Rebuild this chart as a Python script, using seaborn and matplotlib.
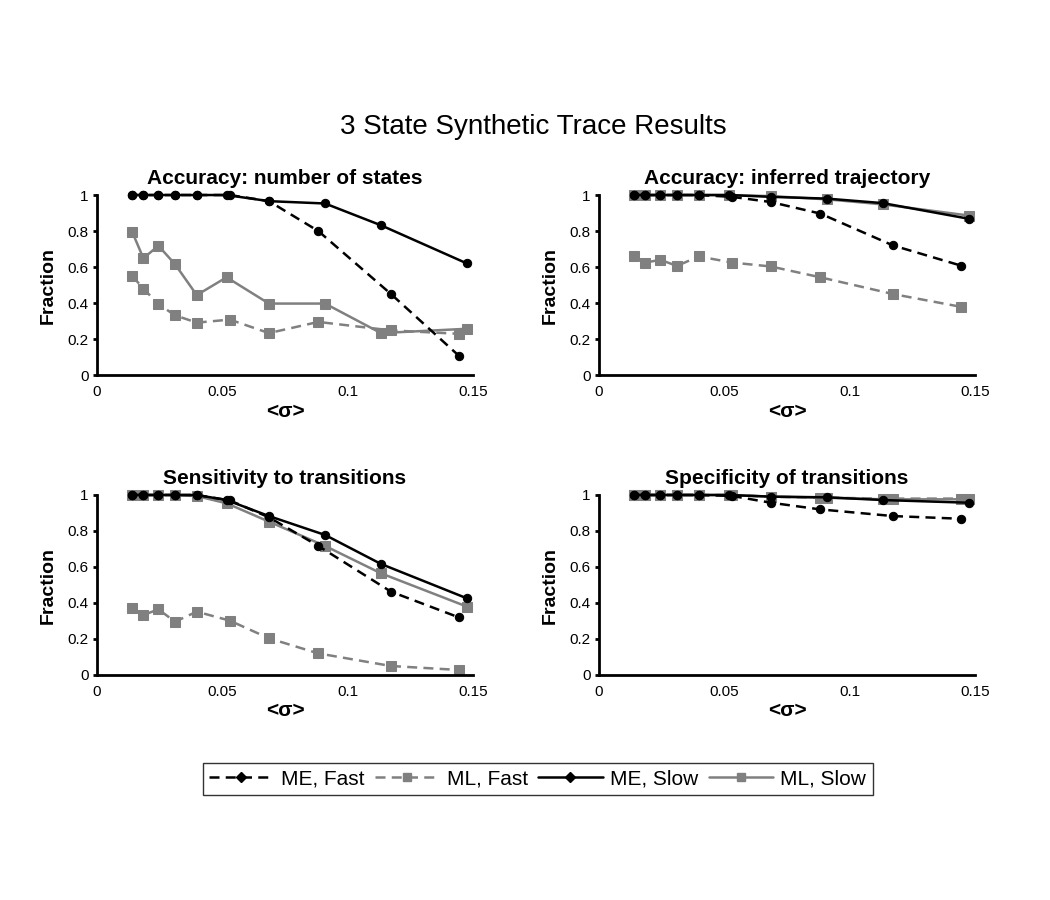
import numpy as np
import pandas as pd
import seaborn as sns
import matplotlib
matplotlib.use('Agg')
import matplotlib.pyplot as plt
from matplotlib.lines import Line2D

sns.set_style('white')
plt.rcParams['font.family'] = ['Liberation Sans', 'DejaVu Sans']
for k in ['text.color', 'axes.labelcolor', 'xtick.color', 'ytick.color']:
    plt.rcParams[k] = 'black'

# x values (mean sigma) - fast and slow traces sit at slightly different noise levels
x_fast = [0.0141, 0.0185, 0.0245, 0.0311, 0.0398, 0.0530, 0.0686, 0.0883, 0.1173, 0.1444]
x_slow = [0.0141, 0.0185, 0.0245, 0.0311, 0.0398, 0.0517, 0.0686, 0.0910, 0.1133, 0.1476]

titles = ['Accuracy: number of states', 'Accuracy: inferred trajectory',
          'Sensitivity to transitions', 'Specificity of transitions']

# panel 1: number of states
states_me_fast = [1, 1, 1, 1, 1, 1, 0.966, 0.80, 0.45, 0.107]
states_ml_fast = [0.55, 0.48, 0.394, 0.332, 0.291, 0.308, 0.233, 0.295, 0.248, 0.229]
states_me_slow = [1, 1, 1, 1, 1, 1, 0.966, 0.953, 0.832, 0.62]
states_ml_slow = [0.793, 0.649, 0.718, 0.616, 0.444, 0.543, 0.397, 0.397, 0.233, 0.257]

# panel 2: inferred trajectory
traj_me_fast = [1, 1, 1, 1, 1, 0.99, 0.961, 0.897, 0.72, 0.608]
traj_ml_fast = [0.659, 0.625, 0.64, 0.606, 0.659, 0.625, 0.603, 0.543, 0.45, 0.379]
traj_me_slow = [1, 1, 1, 1, 1, 1, 0.99, 0.98, 0.955, 0.868]
traj_ml_slow = [1, 1, 1, 1, 1, 1, 0.994, 0.976, 0.948, 0.886]

# panel 3: sensitivity
sens_me_fast = [1, 1, 1, 1, 1, 0.97, 0.876, 0.717, 0.463, 0.32]
sens_ml_fast = [0.37, 0.333, 0.365, 0.296, 0.352, 0.302, 0.204, 0.12, 0.05, 0.028]
sens_me_slow = [1, 1, 1, 1, 1, 0.972, 0.883, 0.778, 0.617, 0.426]
sens_ml_slow = [1, 1, 1, 1, 0.994, 0.954, 0.852, 0.717, 0.565, 0.38]

# panel 4: specificity
spec_me_fast = [1, 1, 1, 1, 1, 0.995, 0.957, 0.92, 0.883, 0.868]
spec_ml_fast = [1, 1, 1, 1, 1, 1, 0.99, 0.985, 0.98, 0.98]
spec_me_slow = [1, 1, 1, 1, 1, 1, 0.991, 0.987, 0.972, 0.957]
spec_ml_slow = [1, 1, 1, 1, 1, 1, 0.991, 0.985, 0.976, 0.976]

panels = [
    (states_me_fast, states_ml_fast, states_me_slow, states_ml_slow),
    (traj_me_fast, traj_ml_fast, traj_me_slow, traj_ml_slow),
    (sens_me_fast, sens_ml_fast, sens_me_slow, sens_ml_slow),
    (spec_me_fast, spec_ml_fast, spec_me_slow, spec_ml_slow),
]

series_names = ['ME, Fast', 'ML, Fast', 'ME, Slow', 'ML, Slow']
gray = '#808080'
styles = {
    'ME, Fast': dict(color='black', ls=(0, (4, 2.5)), marker='o', ms=6, lw=1.8),
    'ML, Fast': dict(color=gray, ls=(0, (4, 2.5)), marker='s', ms=7.5, lw=1.8),
    'ME, Slow': dict(color='black', ls='-', marker='o', ms=6, lw=1.8),
    'ML, Slow': dict(color=gray, ls='-', marker='s', ms=7.5, lw=1.8),
}
draw_order = ['ML, Slow', 'ML, Fast', 'ME, Slow', 'ME, Fast']

fig = plt.figure(figsize=(10.5, 9), dpi=100)
positions = [(0.0924, 0.5833), (0.5705, 0.5833), (0.0924, 0.25), (0.5705, 0.25)]

for i, (vals, title) in enumerate(zip(panels, titles)):
    ax = fig.add_axes([positions[i][0], positions[i][1], 0.358, 0.2])
    rows = []
    for name, v in zip(series_names, vals):
        xs = x_fast if 'Fast' in name else x_slow
        for xx, yy in zip(xs, v):
            rows.append((name, xx, yy))
    df = pd.DataFrame(rows, columns=['series', 'sigma', 'fraction'])
    for name in draw_order:
        st = styles[name]
        sub = df[df.series == name]
        sns.lineplot(data=sub, x='sigma', y='fraction', ax=ax, estimator=None, sort=False,
                     color=st['color'], linestyle=st['ls'], linewidth=st['lw'],
                     marker=st['marker'], markersize=st['ms'], markeredgecolor=st['color'],
                     markerfacecolor=st['color'], clip_on=False)
    ax.set_xlim(0, 0.15)
    ax.set_ylim(0, 1)
    ax.set_xticks([0, 0.05, 0.1, 0.15])
    ax.set_xticklabels(['0', '0.05', '0.1', '0.15'])
    ax.set_yticks([0, 0.2, 0.4, 0.6, 0.8, 1])
    ax.set_yticklabels(['0', '0.2', '0.4', '0.6', '0.8', '1'])
    for s in ['top', 'right']:
        ax.spines[s].set_visible(False)
    for s in ['left', 'bottom']:
        ax.spines[s].set_color('black')
        ax.spines[s].set_linewidth(2)
    ax.tick_params(axis='y', left=True, length=3, width=2, labelsize=11, pad=3)
    ax.tick_params(axis='x', bottom=False, length=0, labelsize=11, pad=7)
    ax.set_title(title, fontsize=15, fontweight='bold', pad=8)
    ax.set_ylabel('Fraction', fontsize=14, fontweight='bold', labelpad=8)
    ax.set_xlabel('<σ>', fontsize=15, fontweight='bold', labelpad=2)

fig.text(0.508, 0.859, '3 State Synthetic Trace Results', ha='center', va='center', fontsize=20)

handles = []
for name in series_names:
    st = styles[name]
    handles.append(Line2D([], [], color=st['color'], linestyle=st['ls'], linewidth=st['lw'],
                          marker='D' if st['marker'] == 'o' else 's',
                          markersize=5 if st['marker'] == 'o' else 6, markerfacecolor=st['color'],
                          markeredgecolor=st['color']))
leg = fig.legend(handles, series_names, loc='center', bbox_to_anchor=(0.512, 0.1344), ncol=4,
                 fontsize=15, frameon=True, fancybox=False, edgecolor='black',
                 handlelength=3.1, handletextpad=0.35, columnspacing=0.5, borderpad=0.3)
leg.get_frame().set_linewidth(1)

fig.savefig('out.png', dpi=100)
